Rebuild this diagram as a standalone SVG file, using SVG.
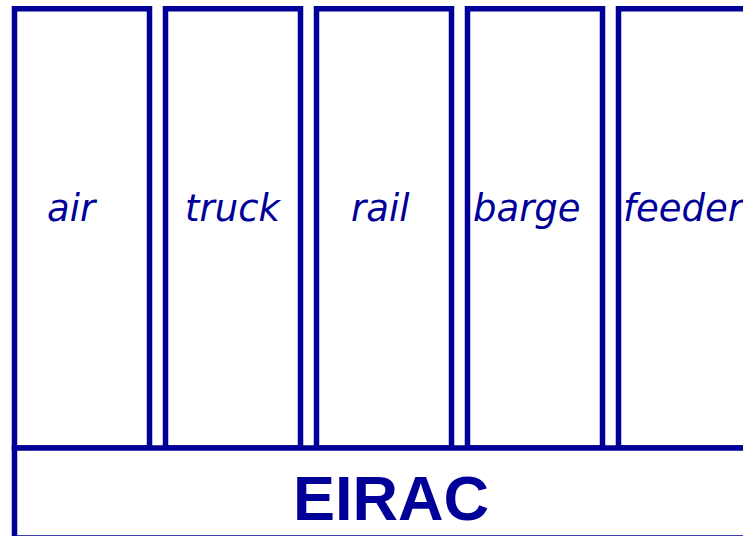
<svg xmlns="http://www.w3.org/2000/svg" width="743" height="536" viewBox="0 0 743 536">
<style>
.box{fill:#ffffff;stroke:#000099;stroke-width:5.5}
.lbl{font-family:"DejaVu Sans",Verdana,sans-serif;font-style:italic;font-size:37px;fill:#000099}
.big{font-family:"Liberation Sans",Arial,sans-serif;font-weight:bold;font-size:63px;fill:#000099;text-anchor:middle}
</style>
<rect width="743" height="536" fill="#ffffff"/>
<g id="air"><rect class="box" x="14.5" y="8.75" width="135" height="439.25"/><text class="lbl" x="47" y="221">air</text></g>
<g id="truck"><rect class="box" x="165.5" y="8.75" width="135" height="439.25"/><text class="lbl" x="185" y="221">truck</text></g>
<g id="rail"><rect class="box" x="316.5" y="8.75" width="135" height="439.25"/><text class="lbl" x="351" y="221">rail</text></g>
<g id="barge"><rect class="box" x="467.5" y="8.75" width="135" height="439.25"/><text class="lbl" x="473" y="221">barge</text></g>
<g id="feeder"><rect class="box" x="618.5" y="8.75" width="135" height="439.25"/><text class="lbl" x="623" y="221">feeder</text></g>
<g id="eirac"><rect class="box" x="14.5" y="448" width="760" height="90"/><text class="big" x="391" y="520">EIRAC</text></g>
<g id="connectors"></g>
</svg>
